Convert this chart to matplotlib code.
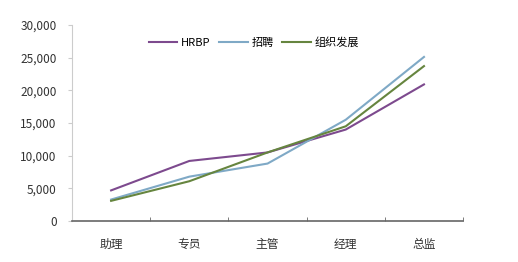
import numpy as np
import matplotlib
matplotlib.use('Agg')
from matplotlib import pyplot as plt

plt.rcParams['font.family'] = ['Noto Sans CJK SC', 'DejaVu Sans']

levels = ['助理', '专员', '主管', '经理', '总监']
hrbp = [4700, 9200, 10500, 14000, 20900]
recruit = [3300, 6800, 8800, 15500, 25100]
orgdev = [3100, 6100, 10500, 14500, 23700]

fig = plt.figure(figsize=(5.18, 2.62), dpi=100)
ax = fig.add_axes([0.139, 0.156, 0.755, 0.749])

x = np.arange(len(levels))
ax.plot(x, hrbp, color='#7d4a8e', lw=1.5, label='HRBP')
ax.plot(x, recruit, color='#7fa9c6', lw=1.5, label='招聘')
ax.plot(x, orgdev, color='#66853f', lw=1.5, label='组织发展')

ax.set_xlim(-0.5, len(levels) - 0.5)
ax.set_ylim(0, 30000)
ax.set_yticks(np.arange(0, 30001, 5000))
ax.set_yticklabels(['{:,}'.format(v) for v in range(0, 30001, 5000)])
ax.set_xticks(x)
ax.set_xticklabels(levels)
ax.set_xticks(np.arange(-0.5, len(levels)), minor=True)
ax.tick_params(axis='x', which='major', length=0, pad=12, labelsize=8.5, colors='#333333')
ax.tick_params(axis='x', which='minor', length=3, direction='in', color='#666666')
ax.tick_params(axis='y', length=3, direction='out', color='#cccccc', labelsize=8.5,
               labelcolor='#333333', pad=8)

for s in ['top', 'right']:
    ax.spines[s].set_visible(False)
ax.spines['left'].set_color('#cccccc')
ax.spines['bottom'].set_color('#666666')
ax.spines['bottom'].set_linewidth(1.2)

ax.legend(loc='upper center', bbox_to_anchor=(0.465, 0.99), ncol=3, frameon=False,
          fontsize=8, handlelength=2.6, handletextpad=0.3, columnspacing=0.8)

fig.savefig('out.png', dpi=100)
